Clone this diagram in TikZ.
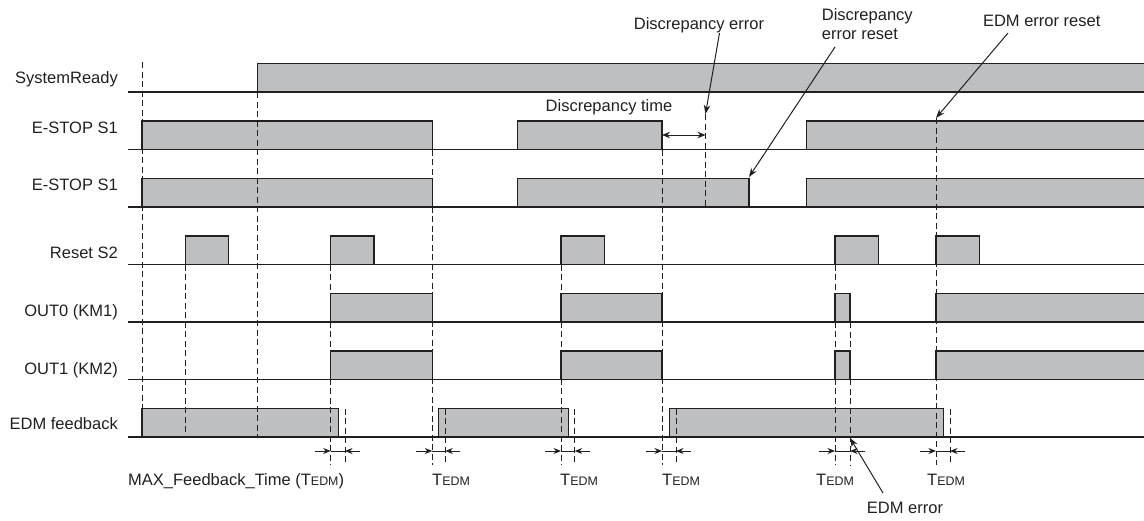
\documentclass[tikz,border=0pt]{standalone}
\usepackage{fontspec}
\setmainfont{Liberation Sans}
\usetikzlibrary{arrows.meta}
\definecolor{pulsefill}{RGB}{190,191,193}
\definecolor{ink}{RGB}{35,31,32}
\newcommand\tedm{T{\fontsize{12.4}{14}\selectfont EDM}}
% pulse: x1, x2, baseline
\newcommand\tpulse[3]{%
  \fill[pulsefill] ({#1},{#3}) rectangle ({#2},{#3-28.5});
  \draw[sig] ({#1},{#3}) -- ({#1},{#3-28.5}) -- ({#2},{#3-28.5}) -- ({#2},{#3});
}
% open pulse to right edge: x1, baseline
\newcommand\topen[2]{%
  \fill[pulsefill] ({#1},{#2}) rectangle (1144,{#2-28.5});
  \draw[sig] ({#1},{#2}) -- ({#1},{#2-28.5}) -- (1144,{#2-28.5});
}
\newcommand\dl[3]{\draw[dline] ({#1},{#2}) -- ({#1},{#3});}
\newcommand\tdm[2]{%
  \draw[tedmarrow] ({#1-16},451) -- ({#1},451);
  \draw[tedmline] ({#1},451) -- ({#2},451);
  \draw[tedmarrow] ({#2+15},451) -- ({#2},451);
}
\begin{document}
\begin{tikzpicture}[x=1pt,y=-1pt,
  sig/.style={draw=ink, line width=1.2pt},
  base/.style={draw=ink, line width=1.2pt},
  dline/.style={draw=ink, line width=0.9pt, dash pattern=on 6pt off 3.5pt},
  lbl/.style={font=\fontsize{16.5}{19.5}\selectfont, text=ink, inner sep=0pt},
  rowlbl/.style={lbl, anchor=base east},
  callout/.style={draw=ink, line width=1pt, -{Stealth[length=9pt,width=6.5pt]}},
  tedmarrow/.style={draw=ink, line width=0.9pt, -{Stealth[length=7.5pt,width=6pt]}},
  tedmline/.style={draw=ink, line width=0.9pt}]
\useasboundingbox (0,0) rectangle (1144,520);

% row labels
\node[rowlbl] (lsr) at (118,83) {SystemReady};
\node[rowlbl] (les1) at (118,133) {E-STOP S1};
\node[rowlbl] (les2) at (118,190) {E-STOP S1};
\node[rowlbl] (lrs) at (118,258) {Reset S2};
\node[rowlbl] (lo0) at (118,316) {OUT0 (KM1)};
\node[rowlbl] (lo1) at (118,374) {OUT1 (KM2)};
\node[rowlbl] (ledm) at (118,429) {EDM feedback};

% SystemReady
\topen{257.3}{92}
% E-STOP S1 (1)
\tpulse{142}{432.3}{149.5}
\tpulse{517.7}{662}{149.5}
\topen{806.7}{149.5}
% E-STOP S1 (2)
\tpulse{142}{432.3}{207}
\tpulse{517.7}{749}{207}
\topen{806.7}{207}
% Reset S2
\tpulse{185.5}{228.7}{264.5}
\tpulse{330.7}{374}{264.5}
\tpulse{561}{604.7}{264.5}
\tpulse{835}{878.7}{264.5}
\tpulse{936}{979.7}{264.5}
% OUT0
\tpulse{330.7}{432.3}{322}
\tpulse{561}{662}{322}
\tpulse{835}{850}{322}
\topen{936}{322}
% OUT1
\tpulse{330.7}{432.3}{379.5}
\tpulse{561}{662}{379.5}
\tpulse{835}{850}{379.5}
\topen{936}{379.5}
% EDM feedback
\tpulse{142}{338.3}{437}
\tpulse{438.7}{568.7}{437}
\tpulse{669.3}{943.3}{437}

% baselines
\foreach \b in {92,149.5,207,264.5,322,379.5,437}
  \draw[base] (128,\b) -- (1144,\b);

% dashed time markers
\dl{142}{62}{437}
\dl{257.3}{92}{437}
\dl{185.5}{264.5}{437}
\dl{330.7}{264.5}{465}
\dl{345}{408.5}{465}
\dl{432.3}{149.5}{465}
\dl{445.3}{408.5}{465}
\dl{561}{264.5}{465}
\dl{574.7}{408.5}{465}
\dl{662}{149.5}{465}
\dl{676}{408.5}{465}
\dl{705.5}{114}{207}
\dl{835}{264.5}{465}
\dl{850}{322}{465}
\dl{936}{118}{465}
\dl{950}{408.5}{465}

% TEDM intervals
\tdm{330.7}{345}
\tdm{432.3}{445.3}
\tdm{561}{574.7}
\tdm{662}{676}
\tdm{835}{850}
\tdm{936}{950}

\node[lbl, anchor=base west] (tmax) at (128,485) {MAX\_Feedback\_Time (\tedm)};
\node[lbl, anchor=base west] (t2) at (432,485) {\tedm};
\node[lbl, anchor=base west] (t3) at (560,485) {\tedm};
\node[lbl, anchor=base west] (t4) at (662,485) {\tedm};
\node[lbl, anchor=base west] (t5) at (816,485) {\tedm};
\node[lbl, anchor=base west] (t6) at (927,485) {\tedm};

% discrepancy time
\node[lbl, anchor=base] (dtime) at (609,111.5) {Discrepancy time};
\coordinate (dt1) at (662,135);
\coordinate (dt2) at (705.5,135);
\draw[draw=ink, line width=1pt, {Stealth[length=8pt,width=6.5pt]}-{Stealth[length=8pt,width=6.5pt]}] (dt1) -- (dt2);

% callouts
\node[lbl, anchor=base] (derr) at (699,29) {Discrepancy error};
\coordinate (derrs) at (719.5,33);
\coordinate (derrt) at (705.5,114);
\draw[callout] (derrs) -- (derrt);

\node[lbl, anchor=north west, align=left] (derrr) at (821.7,8) {Discrepancy\\error reset};
\coordinate (derrrs) at (835,47);
\coordinate (derrrt) at (749,177);
\draw[callout] (derrrs) -- (derrrt);

\node[lbl, anchor=base] (edmr) at (1041.7,26.5) {EDM error reset};
\coordinate (edmrs) at (1008,33);
\coordinate (edmrt) at (936,118);
\draw[callout] (edmrs) -- (edmrt);

\node[lbl, anchor=base] (edme) at (905,513) {EDM error};
\coordinate (edmes) at (883,493);
\coordinate (edmet) at (850,438);
\draw[callout] (edmes) -- (edmet);
\end{tikzpicture}
\end{document}
